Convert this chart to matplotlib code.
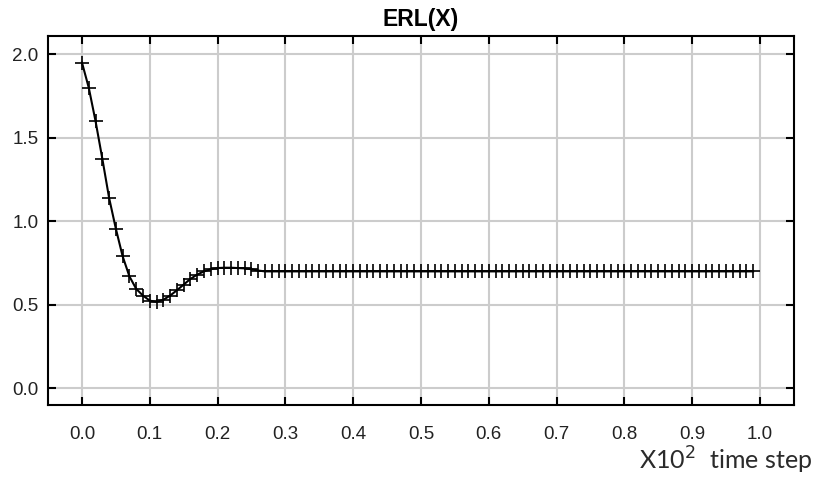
import numpy as np
from matplotlib import pyplot as plt

# time step (x10^2), one sample every 0.01
time_step = np.arange(100) / 100.0

# ERL(X)
erl = [
    1.95, 1.80, 1.60, 1.375, 1.14, 0.955, 0.79, 0.67, 0.595, 0.555,
    0.525, 0.517, 0.53, 0.555, 0.587, 0.621, 0.655, 0.681, 0.70, 0.713,
    0.72, 0.722, 0.722, 0.72, 0.718, 0.713, 0.705, 0.70, 0.70, 0.70,
    0.70, 0.70, 0.70, 0.70, 0.70, 0.70, 0.70, 0.70, 0.70, 0.70,
    0.70, 0.70, 0.70, 0.70, 0.70, 0.70, 0.70, 0.70, 0.70, 0.70,
    0.70, 0.70, 0.70, 0.70, 0.70, 0.70, 0.70, 0.70, 0.70, 0.70,
    0.70, 0.70, 0.70, 0.70, 0.70, 0.70, 0.70, 0.70, 0.70, 0.70,
    0.70, 0.70, 0.70, 0.70, 0.70, 0.70, 0.70, 0.70, 0.70, 0.70,
    0.70, 0.70, 0.70, 0.70, 0.70, 0.70, 0.70, 0.70, 0.70, 0.70,
    0.70, 0.70, 0.70, 0.70, 0.70, 0.70, 0.70, 0.70, 0.70, 0.70,
]

x_ticks = [0.0, 0.1, 0.2, 0.3, 0.4, 0.5, 0.6, 0.7, 0.8, 0.9, 1.0]
y_ticks = [0.0, 0.5, 1.0, 1.5, 2.0]

plt.rcParams['font.family'] = ['Liberation Sans', 'DejaVu Sans']

fig = plt.figure(figsize=(8.15, 4.79), dpi=100)
ax = fig.add_axes([0.059, 0.1545, 0.915, 0.7705])

ax.plot(time_step, erl, color='black', lw=1.5, marker='+',
        markersize=9.5, markeredgewidth=1.2, zorder=3)

ax.set_xlim(-0.05, 1.05)
ax.set_ylim(-0.1, 2.11)
ax.set_xticks(x_ticks)
ax.set_yticks(y_ticks)
ax.set_xticklabels(['%.1f' % t for t in x_ticks])
ax.set_yticklabels(['%.1f' % t for t in y_ticks])

ax.grid(True, color='#cccccc', lw=1.5)
ax.set_axisbelow(True)
for sp in ax.spines.values():
    sp.set_linewidth(1.5)
    sp.set_color('black')

ax.tick_params(axis='both', direction='in', length=6, width=1.5,
               top=True, right=True, labelsize=13.5, labelcolor='#222222')
ax.tick_params(axis='x', pad=15)
ax.tick_params(axis='y', pad=7)

ax.set_title('ERL(X)', fontsize=16.5, fontweight='bold', pad=7)

fig.text(0.997, 0.019, r'X10$^2$  time step', ha='right', va='baseline',
         fontsize=18, color='#2b2b2b', family=['Lato', 'DejaVu Sans'])

plt.savefig('out.png', dpi=100)
